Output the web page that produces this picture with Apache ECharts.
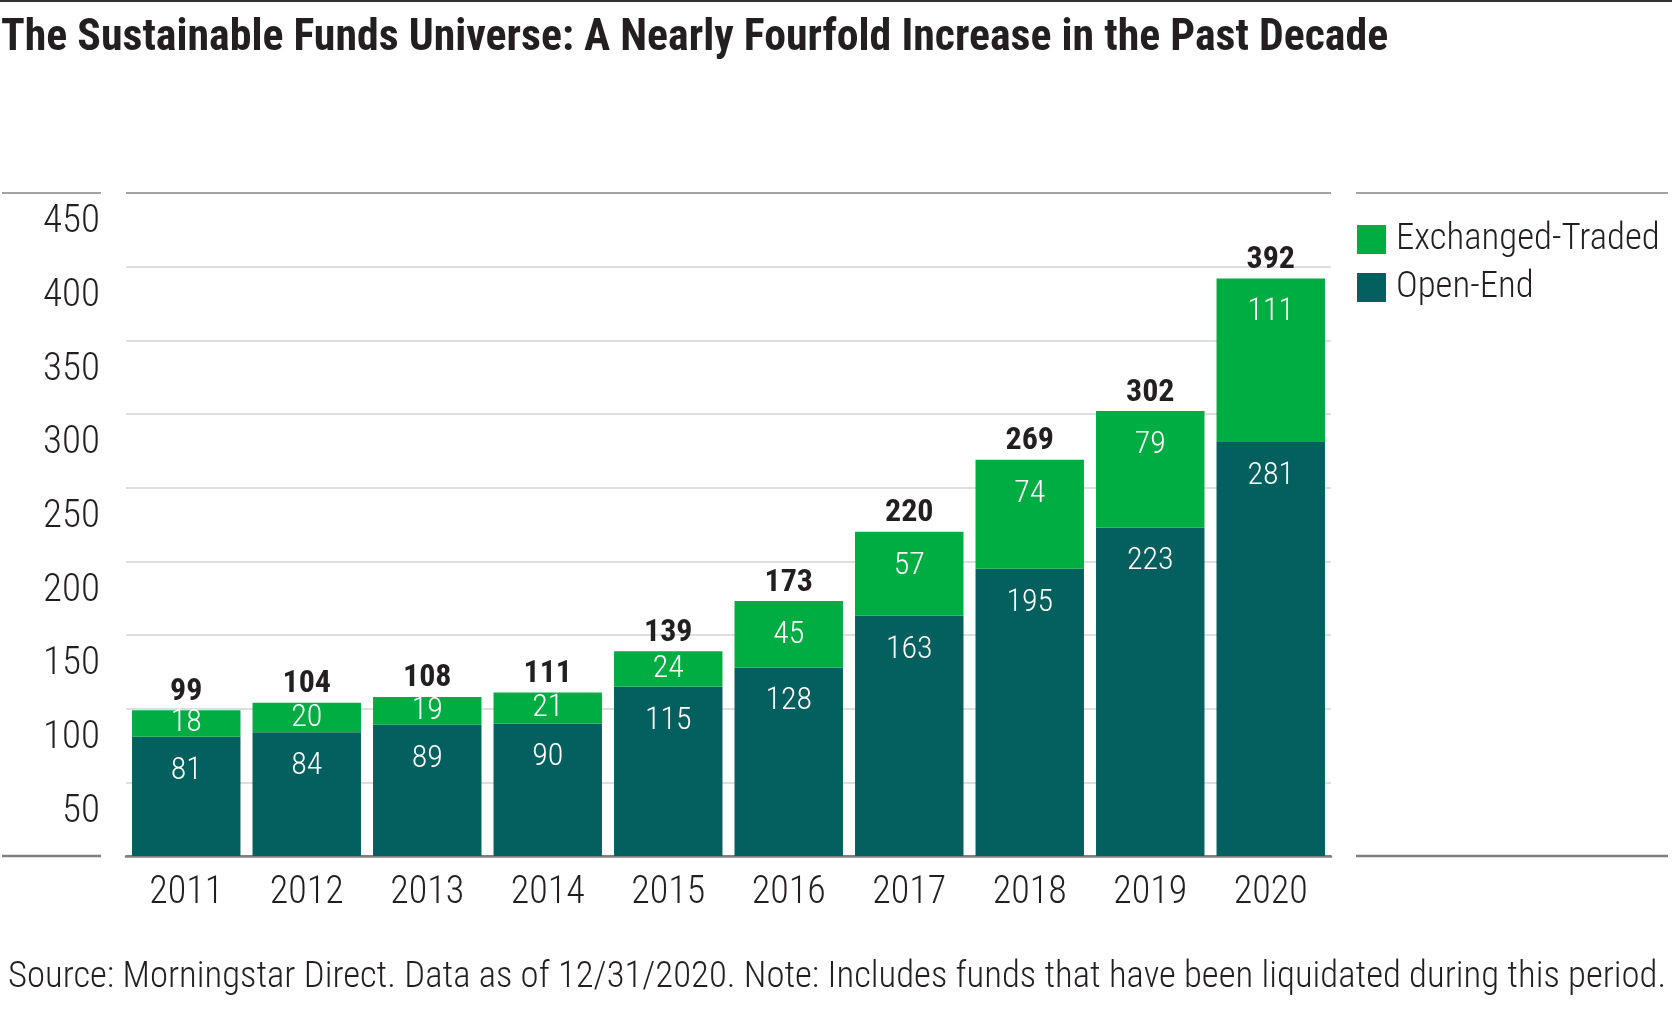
<!DOCTYPE html>
<html>
<head>
<meta charset="utf-8">
<script src="https://cdn.jsdelivr.net/npm/echarts@6/dist/echarts.min.js"></script>
<style>
html,body{margin:0;padding:0;background:#fff;}
#chart{width:1672px;height:1020px;}
</style>
</head>
<body>
<div id="chart"></div>
<script>
const years = ['2011','2012','2013','2014','2015','2016','2017','2018','2019','2020'];
const openEnd = [81, 84, 89, 90, 115, 128, 163, 195, 223, 281];
const exchangeTraded = [18, 20, 19, 21, 24, 45, 57, 74, 79, 111];
const totals = [99, 104, 108, 111, 139, 173, 220, 269, 302, 392];

const TITLE = 'The Sustainable Funds Universe: A Nearly Fourfold Increase in the Past Decade';
const SOURCE = 'Source: Morningstar Direct. Data as of 12/31/2020. Note: Includes funds that have been liquidated during this period.';

const FONT = '"Roboto Condensed","Open Sans Condensed","Liberation Sans",sans-serif';
const GREEN = '#00ad42';
const TEAL = '#03605f';
const TEXT = '#231f20';

// fit font size to a target width (layout helper)
const mctx = document.createElement('canvas').getContext('2d');
function fitSize(text, weight, target) {
  mctx.font = weight + ' 100px ' + FONT;
  const w = mctx.measureText(text).width;
  return Math.round(100 * target / w * 10) / 10;
}
const titleSize = Math.min(46, fitSize(TITLE, 'bold', 1388));
const sourceSize = Math.min(40, fitSize(SOURCE, '300', 1658));
const legendSize = Math.min(40, fitSize('Exchanged-Traded', '300', 264));

const chart = echarts.init(document.getElementById('chart'), null, {renderer: 'canvas'});

const gridTop = 193, gridBottomY = 856, gridLeft = 126, gridRight = 1331;

const etfData = exchangeTraded.map(v => ({
  value: v,
  label: { position: v < 30 ? 'inside' : 'insideTop', distance: 18 }
}));

const option = {
  animation: false,
  textStyle: { fontFamily: FONT },
  title: {
    text: TITLE,
    left: 1, top: 17, padding: 0,
    textStyle: { fontFamily: FONT, fontWeight: 'bold', fontSize: titleSize, color: TEXT }
  },
  legend: {
    data: ['Exchanged-Traded', 'Open-End'],
    orient: 'vertical',
    left: 1357, top: 221, padding: 0,
    icon: 'rect',
    itemWidth: 29, itemHeight: 29,
    itemGap: 11,
    textStyle: { fontFamily: FONT, fontWeight: 300, fontSize: legendSize, color: TEXT, padding: [0,0,0,5] }
  },
  grid: {
    left: gridLeft, right: 1672 - gridRight, top: gridTop, bottom: 1020 - gridBottomY,
    containLabel: false
  },
  xAxis: {
    type: 'category',
    data: years,
    axisLine: { show: true, lineStyle: { color: '#808080', width: 2.5 } },
    axisTick: { show: false },
    axisLabel: { fontFamily: FONT, fontWeight: 300, fontSize: 38, color: TEXT, margin: 18 }
  },
  yAxis: {
    type: 'value',
    min: 0, max: 450, interval: 50,
    axisLine: { show: false },
    axisTick: { show: false },
    axisLabel: {
      fontFamily: FONT, fontWeight: 300, fontSize: 39, color: TEXT, margin: 26,
      verticalAlign: 'top', padding: [10, 0, 0, 0],
      formatter: v => (v === 0 ? '' : String(v))
    },
    splitLine: {
      show: true,
      lineStyle: {
        color: ['#808080','#dedede','#dedede','#dedede','#dedede','#dedede','#dedede','#dedede','#dedede','#a3a3a3'],
        width: 2
      }
    }
  },
  series: [
    {
      name: 'Open-End', type: 'bar', stack: 'funds',
      barCategoryGap: '10%',
      itemStyle: { color: TEAL },
      label: { show: true, position: 'insideTop', distance: 18, color: '#fff', fontFamily: FONT, fontWeight: 300, fontSize: 32 },
      data: openEnd
    },
    {
      name: 'Exchanged-Traded', type: 'bar', stack: 'funds',
      barCategoryGap: '10%',
      itemStyle: { color: GREEN },
      label: { show: true, color: '#fff', fontFamily: FONT, fontWeight: 300, fontSize: 32 },
      data: etfData
    },
    {
      name: 'Total', type: 'line',
      data: totals,
      symbol: 'circle', symbolSize: 1, showSymbol: true,
      itemStyle: { color: 'rgba(0,0,0,0)' },
      lineStyle: { width: 0, opacity: 0 },
      silent: true,
      label: { show: true, position: 'top', distance: 2, color: TEXT, fontFamily: FONT, fontWeight: 'bold', fontSize: 32 },
      z: 5
    }
  ],
  graphic: [
    { type: 'line', shape: { x1: 0, y1: 1, x2: 1672, y2: 1 }, style: { stroke: '#333', lineWidth: 2 } },
    { type: 'line', shape: { x1: 2, y1: gridTop, x2: 101, y2: gridTop }, style: { stroke: '#a3a3a3', lineWidth: 2 } },
    { type: 'line', shape: { x1: 2, y1: gridBottomY, x2: 101, y2: gridBottomY }, style: { stroke: '#808080', lineWidth: 2.5 } },
    { type: 'line', shape: { x1: 1356, y1: gridTop, x2: 1668, y2: gridTop }, style: { stroke: '#a3a3a3', lineWidth: 2 } },
    { type: 'line', shape: { x1: 1356, y1: gridBottomY, x2: 1668, y2: gridBottomY }, style: { stroke: '#808080', lineWidth: 2.5 } },
    {
      type: 'text', left: 8, top: 959,
      style: {
        text: SOURCE,
        font: '300 ' + sourceSize + 'px ' + FONT, fill: TEXT
      }
    }
  ]
};
chart.setOption(option);
</script>
</body>
</html>
